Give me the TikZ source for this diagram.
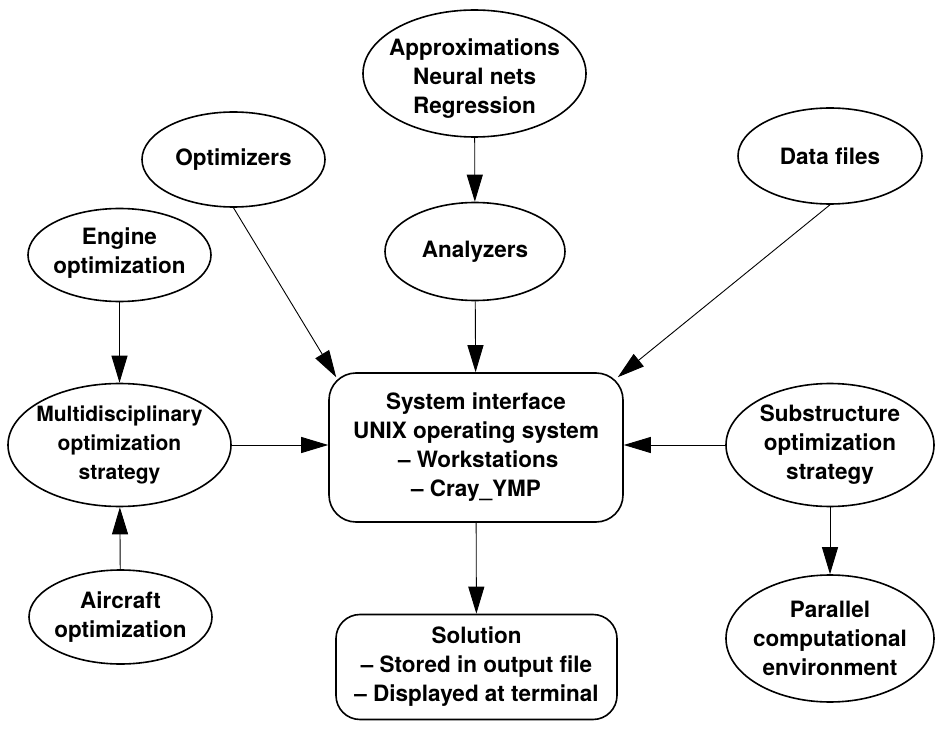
\documentclass[tikz,border=0pt]{standalone}
\usepackage{fontspec}
\setmainfont{TeX Gyre Heros}
\usetikzlibrary{shapes.geometric,arrows.meta}
\begin{document}
\begin{tikzpicture}[x=1pt,y=-1pt,
  every node/.style={font=\fontsize{22.5}{29}\selectfont\bfseries, align=center},
  oval/.style={ellipse, draw, line width=1.6pt, inner sep=0pt},
  rbox/.style={draw, rounded corners=27pt, line width=1.6pt, inner sep=0pt},
  conn/.style={line width=0.9pt, -{Triangle[length=27pt,width=16pt]}}]
\useasboundingbox (0,0) rectangle (935,730);
\node[oval, minimum width=223pt, minimum height=127pt,
  label={[yshift=-5pt]center:Approximations\\Neural nets\\Regression}] (appr) at (474.5,73.5) {};
\node[oval, minimum width=183pt, minimum height=95pt, label={center:Optimizers}] (opt) at (233.5,159.5) {};
\node[oval, minimum width=184pt, minimum height=96pt, label={center:Data files}] (data) at (830,156) {};
\node[oval, minimum width=183pt, minimum height=93pt, label={[yshift=2pt]center:Engine\\optimization}] (eng) at (119.5,255) {};
\node[oval, minimum width=180pt, minimum height=98pt, label={center:Analyzers}] (ana) at (475,251.5) {};
\node[rbox, minimum width=294pt, minimum height=149pt] (sys) at (476,447.5) {System interface\\UNIX operating system\\\hspace*{0.2em}-- Workstations\\-- Cray\_YMP};
\node[oval, minimum width=223pt, minimum height=123pt, label={[font=\fontsize{21}{29}\selectfont\bfseries]center:Multidisciplinary\\optimization\\strategy}] (multi) at (119.5,445) {};
\node[oval, minimum width=208pt, minimum height=123pt, label={center:Substructure\\optimization\\strategy}] (sub) at (830,445) {};
\node[oval, minimum width=183pt, minimum height=94pt, label={center:Aircraft\\optimization}] (air) at (120.5,617) {};
\node[rbox, rounded corners=24pt, minimum width=281pt, minimum height=105pt] (sol) at (476.5,667) {Solution\\-- Stored in output file\\-- Displayed at terminal};
\node[oval, minimum width=208pt, minimum height=127pt, label={center:Parallel\\computational\\environment}] (par) at (830,638.5) {};
\draw[conn] (appr) -- (ana);
\draw[conn] (ana) -- (sys);
\draw[conn] (opt.south) -- ([shift={(8,5)}]sys.north west);
\draw[conn] (data.south) -- ([shift={(-6,5)}]sys.north east);
\draw[conn] (eng) -- (multi);
\draw[conn] (air) -- (multi);
\draw[conn] (multi) -- (multi -| sys.west);
\draw[conn] (sub) -- (sub -| sys.east);
\draw[conn] (sys) -- (sol);
\draw[conn] (sub) -- (par);
\end{tikzpicture}
\end{document}
